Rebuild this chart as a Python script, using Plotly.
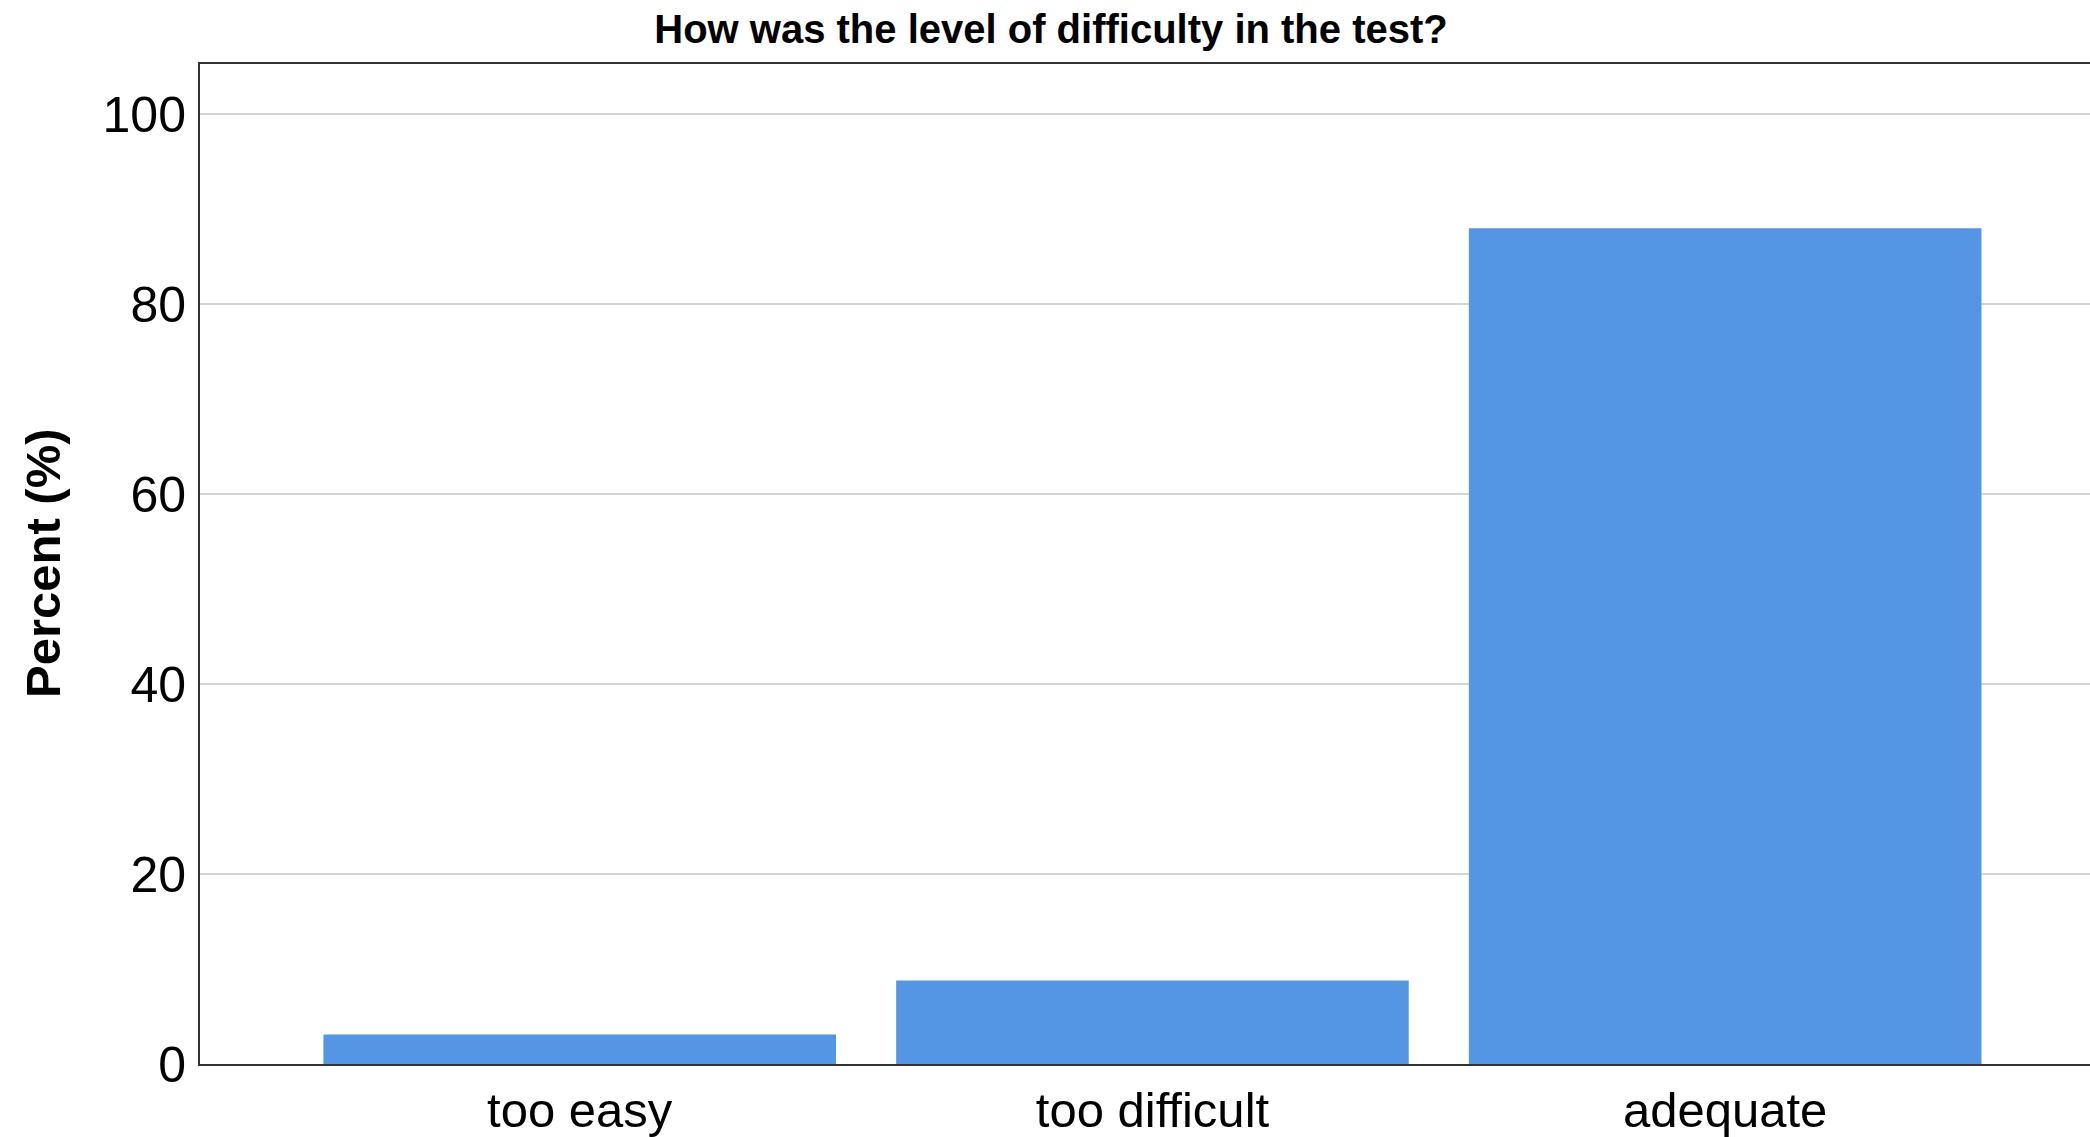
import plotly.graph_objects as go

categories = ["too easy", "too difficult", "adequate"]
percent = [3.1, 8.8, 88.0]
y_ticks = [0, 20, 40, 60, 80, 100]

W, H = 2090, 1137
ML, MT, MB = 200, 64, 60
FONT = "Liberation Sans, Arial, sans-serif"

fig = go.Figure()
fig.add_trace(go.Bar(
    x=categories, y=percent, width=0.895,
    marker=dict(color="#5596E4", line=dict(width=0)),
    hoverinfo="x+y",
))

fig.update_layout(
    width=W, height=H,
    margin=dict(l=ML, r=0, t=MT, b=MB, pad=0),
    paper_bgcolor="white", plot_bgcolor="white",
    font=dict(family=FONT, color="black"),
    showlegend=False,
    title=dict(
        text="<b>How was the level of difficulty in the test?</b>",
        font=dict(size=40, family=FONT, color="black"),
        xref="container", x=1051 / W, xanchor="center",
        yref="container", y=1 - 29 / H, yanchor="middle",
    ),
    xaxis=dict(
        type="category", range=[-0.663, 2.637],
        showline=True, linecolor="#333333", linewidth=2, mirror=True,
        showgrid=False, ticks="outside", ticklen=2, tickcolor="rgba(0,0,0,0)",
        tickfont=dict(size=49),
    ),
    yaxis=dict(
        range=[0, 105.3], tickvals=y_ticks,
        showline=True, linecolor="#333333", linewidth=2,
        showgrid=True, gridcolor="#d4d4d4", gridwidth=2,
        zeroline=False,
        ticks="outside", ticklen=2, tickcolor="rgba(0,0,0,0)",
        tickfont=dict(size=50),
    ),
    annotations=[dict(
        text="<b>Percent (%)</b>", textangle=-90,
        xref="paper", yref="paper",
        x=(43 - ML) / (W - ML), y=0.501,
        xanchor="center", yanchor="middle", showarrow=False,
        font=dict(size=49, family=FONT, color="black"),
    )],
)

fig.write_html(
    "out.html",
    config={"displayModeBar": False},
    post_script="document.body.style.margin='0';document.body.style.overflow='hidden';",
)
